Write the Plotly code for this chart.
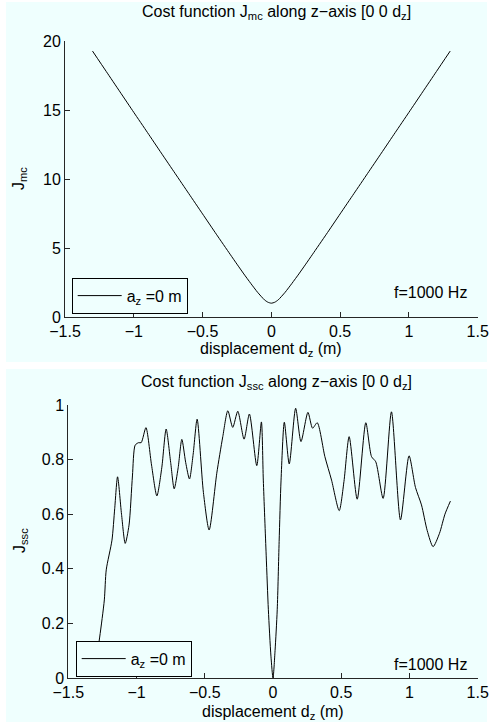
import plotly.graph_objects as go

# ---------------- data ----------------
dz_mc = [-1.3, -1.2, -1.1, -1.0, -0.9, -0.8, -0.7, -0.6, -0.5, -0.4, -0.3, -0.25,
         -0.2, -0.15, -0.1, -0.05, -0.025, 0.0, 0.025, 0.05, 0.1, 0.15, 0.2, 0.25,
         0.3, 0.4, 0.5, 0.6, 0.7, 0.8, 0.9, 1.0, 1.1, 1.2, 1.3]
J_mc = [19.27, 17.79, 16.31, 14.83, 13.36, 11.88, 10.41, 8.94, 7.47, 6.00, 4.55, 3.83,
        3.12, 2.44, 1.79, 1.24, 1.07, 1.0, 1.07, 1.24, 1.79, 2.44, 3.12, 3.83,
        4.55, 6.00, 7.47, 8.94, 10.41, 11.88, 13.36, 14.83, 16.31, 17.79, 19.27]

dz_ssc = [-1.30, -1.27, -1.236, -1.222, -1.18, -1.16, -1.139, -1.11, -1.083, -1.055,
          -1.03, -1.01, -0.985, -0.966, -0.931, -0.89, -0.851, -0.815, -0.783, -0.75,
          -0.724, -0.695, -0.668, -0.64, -0.612, -0.585, -0.556, -0.51, -0.468, -0.412,
          -0.368, -0.331, -0.295, -0.258, -0.212, -0.173, -0.119, -0.085, -0.071, -0.05,
          -0.034, -0.015, 0.0, 0.015, 0.031, 0.045, 0.059, 0.083, 0.119, 0.166,
          0.205, 0.256, 0.29, 0.324, 0.38, 0.429, 0.485, 0.52, 0.558, 0.617,
          0.68, 0.722, 0.753, 0.807, 0.868, 0.934, 0.997, 1.044, 1.088, 1.13,
          1.173, 1.22, 1.26, 1.30]
J_ssc = [0.05, 0.15, 0.286, 0.396, 0.505, 0.62, 0.737, 0.60, 0.493, 0.56,
         0.74, 0.853, 0.862, 0.862, 0.917, 0.78, 0.667, 0.77, 0.912, 0.79,
         0.693, 0.77, 0.874, 0.79, 0.729, 0.82, 0.948, 0.68, 0.542, 0.75,
         0.884, 0.979, 0.918, 0.977, 0.875, 0.967, 0.778, 0.938, 0.725, 0.45,
         0.25, 0.08, 0.0, 0.10, 0.25, 0.50, 0.725, 0.937, 0.784, 0.988,
         0.866, 0.973, 0.915, 0.935, 0.811, 0.725, 0.613, 0.72, 0.884, 0.655,
         0.935, 0.811, 0.792, 0.658, 0.975, 0.579, 0.814, 0.698, 0.634, 0.54,
         0.481, 0.53, 0.60, 0.648]

x_ticks = [-1.5, -1.0, -0.5, 0.0, 0.5, 1.0, 1.5]
x_ticktext = ["\u22121.5", "\u22121", "\u22120.5", "0", "0.5", "1", "1.5"]
y1_ticks = [0, 5, 10, 15, 20]
y1_ticktext = ["0", "5", "10", "15", "20"]
y2_ticks = [0, 0.2, 0.4, 0.6, 0.8, 1.0]
y2_ticktext = ["0", "0.2", "0.4", "0.6", "0.8", "1"]

legend_label = "a<sub>z</sub> =0 m"
freq_label = "f=1000 Hz"

# ---------------- figure ----------------
W, H = 490, 725
BG = "#effffe"
AX = "#262626"
FONT = "Liberation Sans, Arial, Helvetica, sans-serif"
FS = 16


def px(x):
    return x / W


def py(y):
    return 1 - y / H


fig = go.Figure()
fig.add_trace(go.Scatter(x=dz_mc, y=J_mc, mode="lines", name=legend_label,
                         line=dict(color="black", width=1, shape="spline", smoothing=0.5),
                         xaxis="x", yaxis="y", legend="legend"))
fig.add_trace(go.Scatter(x=dz_ssc, y=J_ssc, mode="lines", name=legend_label,
                         line=dict(color="black", width=1, shape="spline", smoothing=0.7),
                         xaxis="x2", yaxis="y2", legend="legend2"))

axis_common = dict(showgrid=False, zeroline=False, showline=True, linecolor=AX,
                   linewidth=1, ticks="inside", ticklen=5, tickwidth=1, tickcolor=AX,
                   automargin=False,
                   tickfont=dict(family=FONT, size=FS, color="black"), mirror=False)

legend_common = dict(xanchor="left", yanchor="top", bgcolor=BG, bordercolor="black",
                     borderwidth=1, itemwidth=44,
                     font=dict(family=FONT, size=FS, color="black"))

fig.update_layout(
    width=W, height=H,
    margin=dict(l=0, r=0, t=0, b=0, autoexpand=False),
    paper_bgcolor="white",
    plot_bgcolor=BG,
    font=dict(family=FONT, size=FS, color="black"),
    xaxis=dict(domain=[px(65), px(477.7)], anchor="y", range=[-1.5, 1.5],
               tickvals=x_ticks, ticktext=x_ticktext, **axis_common),
    yaxis=dict(domain=[py(317), py(41)], anchor="x", range=[0, 20],
               tickvals=y1_ticks, ticktext=y1_ticktext, **axis_common),
    xaxis2=dict(domain=[px(68.3), px(477.7)], anchor="y2", range=[-1.5, 1.5],
                tickvals=x_ticks, ticktext=x_ticktext, **axis_common),
    yaxis2=dict(domain=[py(678), py(405)], anchor="x2", range=[0, 1],
                tickvals=y2_ticks, ticktext=y2_ticktext, **axis_common),
    legend=dict(x=px(71.7), y=py(277.7), **legend_common),
    legend2=dict(x=px(75.7), y=py(640.7), **legend_common),
    showlegend=True,
)

# panel backgrounds
fig.add_shape(type="rect", xref="paper", yref="paper", x0=px(6), x1=px(487),
              y0=py(362), y1=py(2), fillcolor=BG, line=dict(width=0), layer="below")
fig.add_shape(type="rect", xref="paper", yref="paper", x0=px(6), x1=px(487),
              y0=py(722), y1=py(369), fillcolor=BG, line=dict(width=0), layer="below")

ann = []
# titles
ann.append(dict(text="Cost function J<sub>mc</sub> along z\u2212axis [0 0 d<sub>z</sub>]",
                x=px(276), y=py(12), xref="paper", yref="paper", showarrow=False,
                xanchor="center", yanchor="middle", font=dict(size=FS)))
ann.append(dict(text="Cost function J<sub>ssc</sub> along z\u2212axis [0 0 d<sub>z</sub>]",
                x=px(276), y=py(382), xref="paper", yref="paper", showarrow=False,
                xanchor="center", yanchor="middle", font=dict(size=FS)))
# x labels
ann.append(dict(text="displacement d<sub>z</sub> (m)", x=px(271), y=py(349),
                xref="paper", yref="paper", showarrow=False, xanchor="center",
                yanchor="middle", font=dict(size=FS)))
ann.append(dict(text="displacement d<sub>z</sub> (m)", x=px(273), y=py(712),
                xref="paper", yref="paper", showarrow=False, xanchor="center",
                yanchor="middle", font=dict(size=FS)))
# y labels
ann.append(dict(text="J<sub>mc</sub>", x=px(19), y=py(179), textangle=-90,
                xref="paper", yref="paper", showarrow=False, xanchor="center",
                yanchor="middle", font=dict(size=FS)))
ann.append(dict(text="J<sub>ssc</sub>", x=px(20), y=py(541), textangle=-90,
                xref="paper", yref="paper", showarrow=False, xanchor="center",
                yanchor="middle", font=dict(size=FS)))
# frequency notes
ann.append(dict(text=freq_label, x=px(430), y=py(292), xref="paper", yref="paper",
                showarrow=False, xanchor="center", yanchor="middle", font=dict(size=FS)))
ann.append(dict(text=freq_label, x=px(430), y=py(664), xref="paper", yref="paper",
                showarrow=False, xanchor="center", yanchor="middle", font=dict(size=FS)))
fig.update_layout(annotations=ann)

fig.write_html("out.html", config={"displayModeBar": False},
               post_script="document.body.style.margin='0';")
